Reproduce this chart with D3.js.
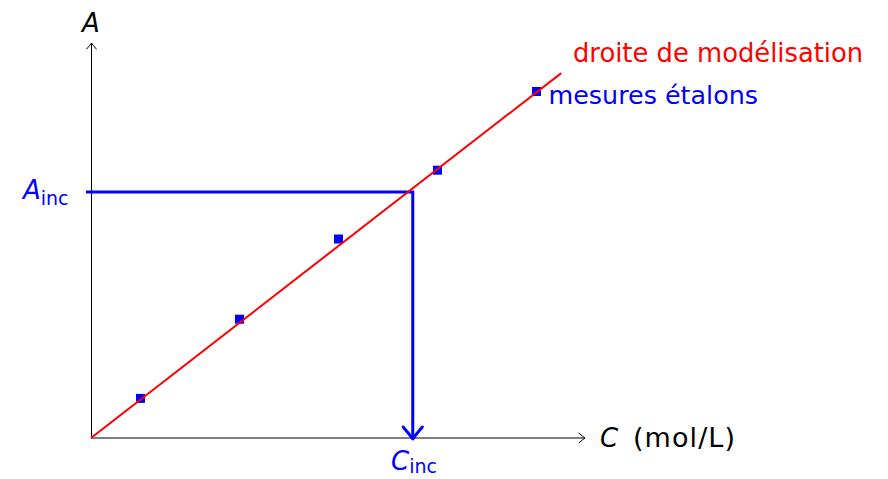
<!DOCTYPE html>
<html>
<head>
<meta charset="utf-8">
<script src="https://cdn.jsdelivr.net/npm/d3@7"></script>
<style>
  html, body { margin: 0; padding: 0; background: #fff; }
  svg text { font-family: "DejaVu Sans", sans-serif; }
</style>
</head>
<body>
<svg id="chart" width="888" height="479"></svg>
<script>
// Calibration measurements (concentration C, absorbance A), arbitrary units
const concentrations = [1, 3, 5, 7, 9];
const absorbances = [0.8, 2.4, 4.02, 5.41, 7.0];

// Fitted model: A = slope * C, drawn from the origin up to lineEnd
const slope = 0.776;
const lineEnd = 9.5;

// Unknown sample
const cInc = 6.5;
const aInc = 4.97;

// Axis extents
const xMax = 10;
const yMax = 8;

const svg = d3.select("#chart");
const x = d3.scaleLinear().domain([0, xMax]).range([91, 586]);
const y = d3.scaleLinear().domain([0, yMax]).range([438, 42]);

const ink = "#000";
const blue = "#0000ff";
const red = "#ff0000";

// Curved chevron arrow tip pointing along angle `dir`
function arrowTip(g, tx, ty, dir, size, color, width) {
  const a = size, b = size * 0.8;
  const p = d3.path();
  const rot = (dx, dy) => [tx + dx * Math.cos(dir) - dy * Math.sin(dir), ty + dx * Math.sin(dir) + dy * Math.cos(dir)];
  const p1 = rot(-a, -b), c1 = rot(-a * 0.25, -b * 0.2), c2 = rot(-a * 0.25, b * 0.2), p2 = rot(-a, b);
  p.moveTo(...p1);
  p.quadraticCurveTo(...c1, tx, ty);
  p.quadraticCurveTo(...c2, ...p2);
  g.append("path").attr("d", p.toString())
    .attr("fill", "none").attr("stroke", color).attr("stroke-width", width)
    .attr("stroke-linecap", "round").attr("stroke-linejoin", "round");
}

// Axes
const axes = svg.append("g");
axes.append("line")
  .attr("x1", x(0)).attr("y1", y(0)).attr("x2", x(xMax) - 1).attr("y2", y(0))
  .attr("stroke", ink).attr("stroke-width", 1);
arrowTip(axes, x(xMax) - 1, y(0), 0, 6, ink, 1);
axes.append("line")
  .attr("x1", x(0) + 0.5).attr("y1", y(0)).attr("x2", x(0) + 0.5).attr("y2", y(yMax) + 1)
  .attr("stroke", ink).attr("stroke-width", 1);
arrowTip(axes, x(0) + 0.5, y(yMax) + 1, -Math.PI / 2, 6, ink, 1);

// Axis titles
axes.append("text")
  .attr("x", x(0)).attr("y", 32).attr("text-anchor", "middle")
  .attr("font-size", 26).attr("font-style", "italic").attr("fill", ink)
  .text("A");
const cLabel = axes.append("text")
  .attr("x", 600).attr("y", 447)
  .attr("font-size", 26).attr("fill", ink);
cLabel.append("tspan").attr("font-style", "italic").text("C");
cLabel.append("tspan").attr("x", 633).attr("font-size", 27)
  .attr("textLength", 102).attr("lengthAdjust", "spacing").text("(mol/L)");

// Reading guides for the unknown sample
const guides = svg.append("g");
guides.append("path")
  .attr("d", `M${x(0) - 5},${y(aInc)} H${x(cInc)} V${y(0) - 1}`)
  .attr("fill", "none").attr("stroke", blue).attr("stroke-width", 3);
arrowTip(guides, x(cInc), y(0) + 1, Math.PI / 2, 12, blue, 3);

const aLab = guides.append("text")
  .attr("x", 23).attr("y", 199).attr("fill", blue).attr("font-size", 26);
aLab.append("tspan").attr("font-style", "italic").text("A");
aLab.append("tspan").attr("font-size", 19).attr("dy", 6).text("inc");

const cLab = guides.append("text")
  .attr("x", 391).attr("y", 470).attr("fill", blue).attr("font-size", 26);
cLab.append("tspan").attr("font-style", "italic").text("C");
cLab.append("tspan").attr("font-size", 19).attr("dy", 3).text("inc");

// Calibration points
const pts = concentrations.map((c, i) => ({ c, a: absorbances[i] }));
svg.append("g").selectAll("rect")
  .data(pts)
  .join("rect")
  .attr("x", d => x(d.c) - 4.5)
  .attr("y", d => y(d.a) - 4.5)
  .attr("width", 9).attr("height", 9)
  .attr("fill", blue);

// Model line
svg.append("line")
  .attr("x1", x(0)).attr("y1", y(0))
  .attr("x2", x(lineEnd)).attr("y2", y(slope * lineEnd))
  .attr("stroke", red).attr("stroke-width", 2);

// Annotations
svg.append("text")
  .attr("x", 573).attr("y", 62).attr("fill", red).attr("font-size", 25.8)
  .text("droite de modélisation");
const last = pts[pts.length - 1];
svg.append("text")
  .attr("x", x(last.c) + 12).attr("y", y(last.a) + 12).attr("fill", blue).attr("font-size", 25.4)
  .text("mesures étalons");
</script>
</body>
</html>
